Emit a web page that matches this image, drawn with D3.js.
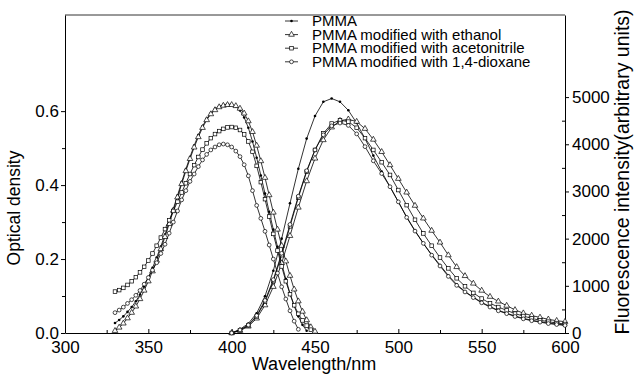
<!DOCTYPE html>
<html>
<head>
<meta charset="utf-8">
<script src="https://cdn.jsdelivr.net/npm/d3@7"></script>
<style>
body { margin: 0; background: #fff; }
svg text { font-family: "Liberation Sans", Arial, sans-serif; fill: #000; }
.axis path, .axis line { stroke: #000; stroke-width: 1; }
.line { fill: none; stroke: #000; stroke-width: 0.8; }
</style>
</head>
<body>
<div class="container"></div>
<script>
// ---- data ----
var seriesNames = ["PMMA", "PMMA modified with ethanol", "PMMA modified with acetonitrile", "PMMA modified with 1,4-dioxane"];
var markerTypes = ["dot", "triangle", "square", "circle"];

// absorption (left axis, optical density)
var absWavelength = [330, 332.5, 335, 337.5, 340, 342.5, 345, 347.5, 350, 352.5, 355, 357.5, 360, 362.5, 365, 367.5,
    370, 372.5, 375, 377.5, 380, 382.5, 385, 387.5, 390, 392.5, 395, 397.5, 400, 402.5, 405, 407.5, 410, 412.5,
    415, 417.5, 420, 422.5, 425, 427.5, 430, 432.5, 435, 437.5, 440, 442.5, 445, 447.5, 450];
var absPMMA = [.027, .035, .045, .057, .07, .086, .104, .126, .15, .176, .204, .234, .266, .3, .336, .372, .408, .443,
    .476, .507, .535, .559, .579, .595, .606, .613, .617, .619, .618, .613, .602, .583, .555, .518, .474, .426, .377,
    .328, .28, .233, .188, .146, .107, .073, .045, .022, .006];
var absEthanol = [.006, .015, .026, .04, .055, .072, .092, .115, .14, .167, .196, .227, .26, .295, .331, .367, .403, .438,
    .471, .502, .53, .555, .576, .592, .603, .611, .615, .617, .617, .614, .607, .594, .573, .544, .507, .465, .42,
    .373, .326, .28, .236, .194, .155, .118, .086, .058, .035, .016, .004];
var absAcetonitrile = [.112, .116, .122, .13, .14, .151, .164, .179, .196, .215, .236, .258, .281, .305, .33, .355, .38, .405,
    .43, .454, .476, .496, .513, .527, .538, .546, .552, .556, .557, .555, .549, .537, .518, .49, .452, .408, .362,
    .315, .268, .223, .18, .14, .105, .075, .052, .034, .02, .009];
var absDioxane = [.055, .062, .07, .08, .09, .102, .115, .132, .15, .17, .19, .215, .24, .27, .3, .33, .36, .385,
    .41, .43, .45, .468, .483, .495, .503, .509, .511, .509, .503, .492, .477, .455, .425, .385, .345, .31, .275,
    .238, .2, .162, .125, .092, .06, .032, .01];

// fluorescence (right axis)
var flWavelength = [400, 405, 410, 415, 420, 425, 430, 435, 440, 445, 450, 455, 460, 465, 470, 475, 480, 485, 490, 495,
    500, 505, 510, 515, 520, 525, 530, 535, 540, 545, 550, 555, 560, 565, 570, 575, 580, 585, 590, 595, 600];
var flPMMA = [0, 80, 200, 420, 780, 1320, 2000, 2750, 3480, 4120, 4600, 4900, 4970, 4900, 4720, 4450, 4120, 3760, 3420, 3100,
    2780, 2460, 2170, 1900, 1660, 1440, 1220, 1030, 880, 760, 650, 560, 480, 420, 360, 310, 270, 240, 210, 190, 170];
var flEthanol = [0, 50, 140, 310, 590, 980, 1480, 2060, 2660, 3220, 3700, 4090, 4360, 4500, 4530, 4480, 4330, 4100, 3840, 3560,
    3270, 2980, 2700, 2430, 2170, 1920, 1650, 1400, 1210, 1050, 900, 770, 670, 580, 490, 420, 370, 330, 290, 260, 240];
var flAcetonitrile = [0, 60, 160, 350, 660, 1100, 1650, 2260, 2870, 3420, 3880, 4230, 4440, 4510, 4480, 4350, 4130, 3880, 3620, 3350,
    3030, 2710, 2400, 2110, 1850, 1600, 1370, 1160, 990, 850, 730, 630, 550, 480, 410, 360, 310, 270, 240, 210, 190];
var flDioxane = [0, 65, 170, 370, 690, 1130, 1690, 2300, 2900, 3440, 3880, 4200, 4390, 4450, 4400, 4220, 3950, 3650, 3380, 3100,
    2780, 2450, 2160, 1900, 1650, 1420, 1200, 1010, 870, 750, 640, 550, 470, 410, 350, 300, 260, 230, 200, 180, 160];

var xTicks = [300, 350, 400, 450, 500, 550, 600];
var xMinorTicks = [325, 375, 425, 475, 525, 575];
var leftTicks = [0, 0.2, 0.4, 0.6];
var leftMinorTicks = [0.1, 0.3, 0.5];
var rightTicks = [0, 1000, 2000, 3000, 4000, 5000];
var rightMinorTicks = [500, 1500, 2500, 3500, 4500];

var absSeries = [absPMMA, absEthanol, absAcetonitrile, absDioxane];
var flSeries = [flPMMA, flEthanol, flAcetonitrile, flDioxane];

// ---- layout ----
var margin = { top: 15, right: 69, bottom: 41, left: 65 }
    , width = 634 - margin.left - margin.right
    , height = 374 - margin.top - margin.bottom;

var svg = d3.select(".container").append("svg")
    .attr("width", 634)
    .attr("height", 374)
    .append("g")
    .attr("transform", "translate(" + margin.left + "," + margin.top + ")");

var x = d3.scaleLinear().domain([300, 600]).range([0, width]);
var yLeft = d3.scaleLinear().domain([0, 0.86]).range([height, 0]);
var yRight = d3.scaleLinear().domain([0, 6740]).range([height, 0]);

// frame (top line)
svg.append("line")
    .attr("x1", 0).attr("x2", width)
    .attr("y1", 0).attr("y2", 0)
    .attr("stroke", "#333").attr("stroke-width", 1);

// bottom axis, ticks pointing inward
var xAxis = svg.append("g")
    .attr("class", "axis")
    .attr("transform", "translate(0," + height + ")")
    .call(d3.axisBottom(x).tickValues(xTicks).tickSize(-4).tickSizeOuter(0).tickPadding(8).tickFormat(d3.format("d")));
xAxis.selectAll("text").style("font-size", "17px");
svg.append("g")
    .attr("class", "axis")
    .attr("transform", "translate(0," + height + ")")
    .call(d3.axisBottom(x).tickValues(xMinorTicks).tickSize(-3).tickSizeOuter(0).tickFormat(""))
    .select(".domain").remove();

// left axis
var leftAxis = svg.append("g")
    .attr("class", "axis")
    .call(d3.axisLeft(yLeft).tickValues(leftTicks).tickSize(4).tickSizeOuter(0).tickPadding(2).tickFormat(d3.format(".1f")));
leftAxis.selectAll("text").style("font-size", "17px");
svg.append("g")
    .attr("class", "axis")
    .call(d3.axisLeft(yLeft).tickValues(leftMinorTicks).tickSize(3).tickSizeOuter(0).tickFormat(""))
    .select(".domain").remove();

// right axis
var rightAxis = svg.append("g")
    .attr("class", "axis")
    .attr("transform", "translate(" + width + ",0)")
    .call(d3.axisRight(yRight).tickValues(rightTicks).tickSize(4).tickSizeOuter(0).tickPadding(3).tickFormat(d3.format("d")));
rightAxis.selectAll("text").style("font-size", "17px");
svg.append("g")
    .attr("class", "axis")
    .attr("transform", "translate(" + width + ",0)")
    .call(d3.axisLeft(yRight).tickValues(rightMinorTicks).tickSize(3).tickSizeOuter(0).tickFormat(""))
    .select(".domain").remove();

// axis titles
svg.append("text")
    .attr("x", 249)
    .attr("y", height + 37)
    .attr("text-anchor", "middle")
    .style("font-size", "18px")
    .text("Wavelength/nm");

svg.append("text")
    .attr("transform", "translate(" + (-45) + "," + 193 + ") rotate(-90)")
    .attr("text-anchor", "middle")
    .style("font-size", "17.5px")
    .text("Optical density");

svg.append("text")
    .attr("transform", "translate(" + (width + 64) + "," + 157 + ") rotate(-90)")
    .attr("text-anchor", "middle")
    .style("font-size", "19.5px")
    .text("Fluorescence intensity(arbitrary units)");

// marker drawing
function drawMarker(g, type, cx, cy) {
    if (type == "dot") {
        g.append("circle").attr("cx", cx).attr("cy", cy).attr("r", 1.3).attr("fill", "#000");
    } else if (type == "triangle") {
        g.append("path")
            .attr("d", d3.symbol().type(d3.symbolTriangle).size(14)())
            .attr("transform", "translate(" + cx + "," + cy + ")")
            .attr("fill", "#fff").attr("stroke", "#000").attr("stroke-width", 0.7);
    } else if (type == "square") {
        g.append("rect").attr("x", cx - 1.8).attr("y", cy - 1.8).attr("width", 3.6).attr("height", 3.6)
            .attr("fill", "#fff").attr("stroke", "#000").attr("stroke-width", 0.7);
    } else {
        g.append("circle").attr("cx", cx).attr("cy", cy).attr("r", 1.9)
            .attr("fill", "#fff").attr("stroke", "#000").attr("stroke-width", 0.7);
    }
}

var absLine = d3.line()
    .x(function (d) { return x(d.wl); })
    .y(function (d) { return yLeft(d.v); });
var flLine = d3.line()
    .x(function (d) { return x(d.wl); })
    .y(function (d) { return yRight(d.v); });

var plot = svg.append("g");

seriesNames.forEach(function (name, i) {
    var absData = absSeries[i].map(function (v, j) { return { wl: absWavelength[j], v: v }; });
    var flData = flSeries[i].map(function (v, j) { return { wl: flWavelength[j], v: v }; });

    plot.append("path").datum(absData).attr("class", "line").attr("d", absLine);
    plot.append("path").datum(flData).attr("class", "line").attr("d", flLine);

    var mg = plot.append("g");
    absData.forEach(function (d) { drawMarker(mg, markerTypes[i], x(d.wl), yLeft(d.v)); });
    flData.forEach(function (d) { drawMarker(mg, markerTypes[i], x(d.wl), yRight(d.v)); });
});

// legend
var legend = svg.append("g").attr("transform", "translate(220,6)");
seriesNames.forEach(function (name, i) {
    var row = legend.append("g").attr("transform", "translate(0," + (i * 13.6) + ")");
    row.append("line").attr("x1", 0).attr("x2", 13).attr("y1", 0).attr("y2", 0)
        .attr("stroke", "#000").attr("stroke-width", 0.8);
    drawMarker(row, markerTypes[i], 6.5, 0);
    row.append("text")
        .attr("x", 27)
        .attr("y", 0)
        .attr("dy", "0.35em")
        .style("font-size", "15px")
        .text(name);
});
</script>
</body>
</html>
